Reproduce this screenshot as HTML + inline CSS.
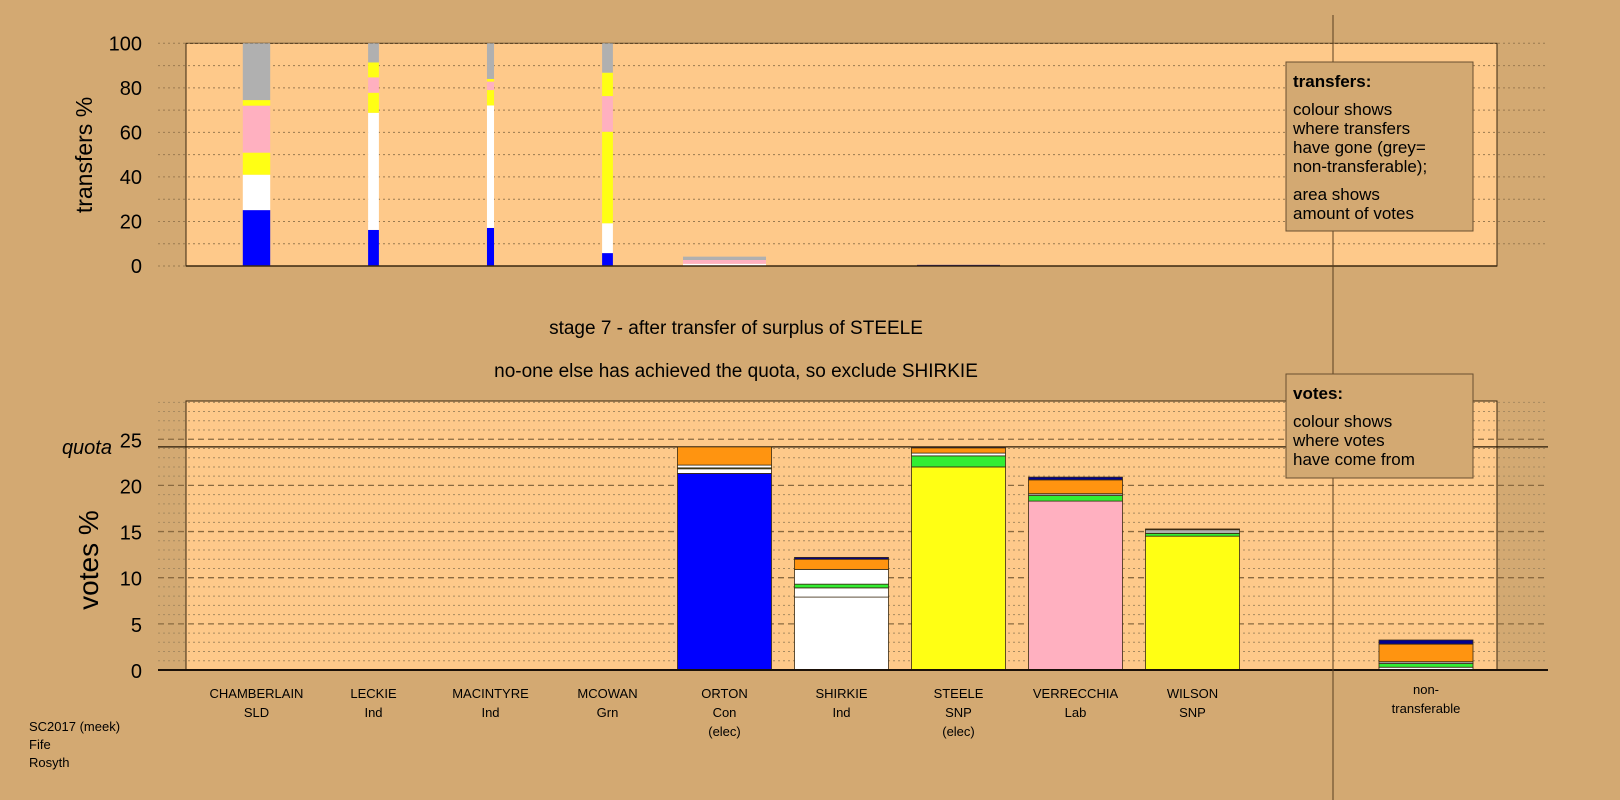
<!DOCTYPE html>
<html><head><meta charset="utf-8"><style>
html,body{margin:0;padding:0;background:#d3a972;}
svg{display:block;font-family:"Liberation Sans",Arial,sans-serif;}
</style></head><body>
<svg id="c" width="1620" height="800" viewBox="0 0 1620 800">
<rect x="0" y="0" width="1620" height="800" fill="#d3a972"/>
<g id="topchart"></g>
<g id="botchart"></g>
<line x1="1333" y1="15" x2="1333" y2="800" stroke="#5a4020" stroke-width="1"/>
<g>
<rect x="1286" y="62" width="187" height="169" fill="#d3a972" stroke="#6a5030" stroke-width="1"/>
<text x="1293" y="87" font-size="17" font-weight="bold">transfers:</text>
<text font-size="17"><tspan x="1293" y="115">colour shows</tspan><tspan x="1293" y="134">where transfers</tspan><tspan x="1293" y="153">have gone (grey=</tspan><tspan x="1293" y="172">non-transferable);</tspan><tspan x="1293" y="200">area shows</tspan><tspan x="1293" y="219">amount of votes</tspan></text>
</g>
<g>
<rect x="1286" y="374" width="187" height="104" fill="#d3a972" stroke="#6a5030" stroke-width="1"/>
<text x="1293" y="399" font-size="17" font-weight="bold">votes:</text>
<text font-size="17"><tspan x="1293" y="427">colour shows</tspan><tspan x="1293" y="446">where votes</tspan><tspan x="1293" y="465">have come from</tspan></text>
</g>
<text x="736" y="334" font-size="19" text-anchor="middle">stage 7 - after transfer of surplus of STEELE</text>
<text x="736" y="377" font-size="19" text-anchor="middle">no-one else has achieved the quota, so exclude SHIRKIE</text>
<text x="92" y="155" font-size="23" text-anchor="middle" transform="rotate(-90 92 155)">transfers %</text>
<text x="98" y="560" font-size="28" text-anchor="middle" transform="rotate(-90 98 560)">votes %</text>
<text font-size="13"><tspan x="29" y="731">SC2017 (meek)</tspan><tspan x="29" y="749">Fife</tspan><tspan x="29" y="767">Rosyth</tspan></text>
</svg>
<script>
// ---- data ----
const candidates = ["CHAMBERLAIN","LECKIE","MACINTYRE","MCOWAN","ORTON","SHIRKIE","STEELE","VERRECCHIA","WILSON"];
const parties = ["SLD","Ind","Ind","Grn","Con","Ind","SNP","Lab","SNP"];
const elected = [false,false,false,false,true,false,true,false,false];
const topTicks = [0,20,40,60,80,100];
const botTicks = [0,5,10,15,20,25];
const quota = 24.17;
// transfers chart: relative width (vote volume) and stacked segments [colour, percent]
const transferVolume = [0.33,0.13,0.085,0.13,1,0,1,0,0];
const transferSegments = [
 [["blue",25.1],["white",15.9],["yellow",9.9],["pink",21.1],["yellow",2.5],["grey",25.5]],
 [["blue",16.2],["white",52.6],["yellow",9.0],["pink",6.9],["yellow",6.7],["grey",8.6]],
 [["blue",17.1],["white",55.0],["yellow",6.9],["pink",3.8],["yellow",1.2],["grey",16.0]],
 [["blue",5.8],["white",13.4],["yellow",41.1],["pink",16.0],["yellow",10.5],["grey",13.2]],
 [["white",1.0],["pink",1.7],["grey",1.5]],
 [],
 [["navy",0.5]],
 [],[]
];
// votes chart: stacked segments [colour, percent]
const voteSegments = [
 [],[],[],[],
 [["blue",21.3],["white",0.5],["green",0.1],["white",0.3],["orange",1.97]],
 [["white",7.9],["white",1.0],["green",0.4],["white",1.6],["orange",1.1],["navy",0.2]],
 [["yellow",22.0],["green",1.2],["white",0.3],["orange",0.57],["navy",0.1]],
 [["pink",18.3],["green",0.6],["grey",0.2],["orange",1.5],["navy",0.3]],
 [["yellow",14.5],["green",0.3],["grey",0.4],["navy",0.08]]
];
const nonTransSegments = [["white",0.3],["green",0.4],["grey",0.2],["orange",1.9],["navy",0.45]];
const palette = {blue:"#0000ff",white:"#ffffff",yellow:"#ffff14",pink:"#ffb0c0",grey:"#b0b0b0",orange:"#ff9410",green:"#33ee33",navy:"#000090"};

const NS="http://www.w3.org/2000/svg";
function mk(tag,attrs,parent){const e=document.createElementNS(NS,tag);for(const k in attrs)e.setAttribute(k,attrs[k]);parent.appendChild(e);return e;}
const slotX = i => 256.5 + i*117;
const nonTransX = 1426;
// ---- top chart ----
const T={l:186,r:1497,t:43.3,b:266};
const yT = v => T.b - v/100*(T.b-T.t);
const topG=document.getElementById('topchart');
let r=mk('rect',{x:T.l,y:T.t,width:T.r-T.l,height:T.b-T.t,fill:"#fec98a",stroke:"#3a2810","stroke-width":1},topG);


for(let v=10;v<=100;v+=10){
  const g=mk('line',{x1:158,x2:1548,y1:yT(v),y2:yT(v),stroke:"#9a7a50","stroke-width":1,"stroke-dasharray":"2,3"},topG);
  
  
}
mk('line',{x1:158,x2:186,y1:yT(0),y2:yT(0),stroke:"#9a7a50","stroke-dasharray":"2,3"},topG);
topTicks.forEach(v=>{
  const t=mk('text',{x:142,y:yT(v)+7,"font-size":20,"text-anchor":"end"},topG);
  t.textContent=v;
  
  
});
const topMaxW=83;
candidates.forEach((c,i)=>{
  const w=transferVolume[i]*topMaxW; let acc=0;
  transferSegments[i].forEach(([col,v])=>{
    const s=mk('rect',{x:slotX(i)-w/2,y:yT(acc+v),width:w,height:yT(acc)-yT(acc+v),fill:palette[col]},topG);
    
    
    acc+=v;
  });
});
mk('line',{x1:T.l,x2:T.r,y1:T.b,y2:T.b,stroke:"#3a2810","stroke-width":1.5},topG);
// ---- bottom chart ----
const B={l:186,r:1497,t:401,b:670};
const yB = v => B.b - v*9.23;
const botG=document.getElementById('botchart');
r=mk('rect',{x:B.l,y:B.t,width:B.r-B.l,height:B.b-B.t,fill:"#fec98a",stroke:"#3a2810","stroke-width":1},botG);


for(let v=1;v<=29;v++){
  const major=v%5===0;
  const g=mk('line',{x1:158,x2:1548,y1:yB(v),y2:yB(v),stroke:major?"#8a6a40":"#a88a60","stroke-width":major?1.3:1,"stroke-dasharray":major?"6,4":"2,3"},botG);
  
  
}
botTicks.forEach(v=>{
  const t=mk('text',{x:142,y:yB(v)+8,"font-size":20,"text-anchor":"end"},botG);
  t.textContent=v;
  
  
});
let q=mk('line',{x1:158,x2:1548,y1:yB(quota),y2:yB(quota),stroke:"#2a1a08","stroke-width":1.3},botG);


let qt=mk('text',{x:112,y:yB(quota)+7,"font-size":20,"font-style":"italic","text-anchor":"end"},botG);
qt.textContent="quota";


const bw=94;
function drawStack(segs,cx,name){
  let acc=0;
  segs.forEach(([col,v])=>{
    const s=mk('rect',{x:cx-bw/2,y:yB(acc+v),width:bw,height:yB(acc)-yB(acc+v),fill:palette[col],stroke:"#3a2a10","stroke-width":0.8},botG);
    
    
    acc+=v;
  });
}
candidates.forEach((c,i)=>{
  drawStack(voteSegments[i],slotX(i),c.toLowerCase());
  const lines=[c,parties[i]]; if(elected[i]) lines.push("(elec)");
  const t=mk('text',{"font-size":13,"text-anchor":"middle"},botG);
  
  
  lines.forEach((L,k)=>{const ts=mk('tspan',{x:slotX(i),y:698+k*19},t);ts.textContent=L;});
});
drawStack(nonTransSegments,nonTransX,'non-transferable');
const nt=mk('text',{"font-size":13,"text-anchor":"middle"},botG);


["non-","transferable"].forEach((L,k)=>{const ts=mk('tspan',{x:nonTransX,y:694+k*19},nt);ts.textContent=L;});
let ax=mk('line',{x1:158,x2:1548,y1:B.b,y2:B.b,stroke:"#1a1008","stroke-width":2},botG);


</script>
</body></html>
